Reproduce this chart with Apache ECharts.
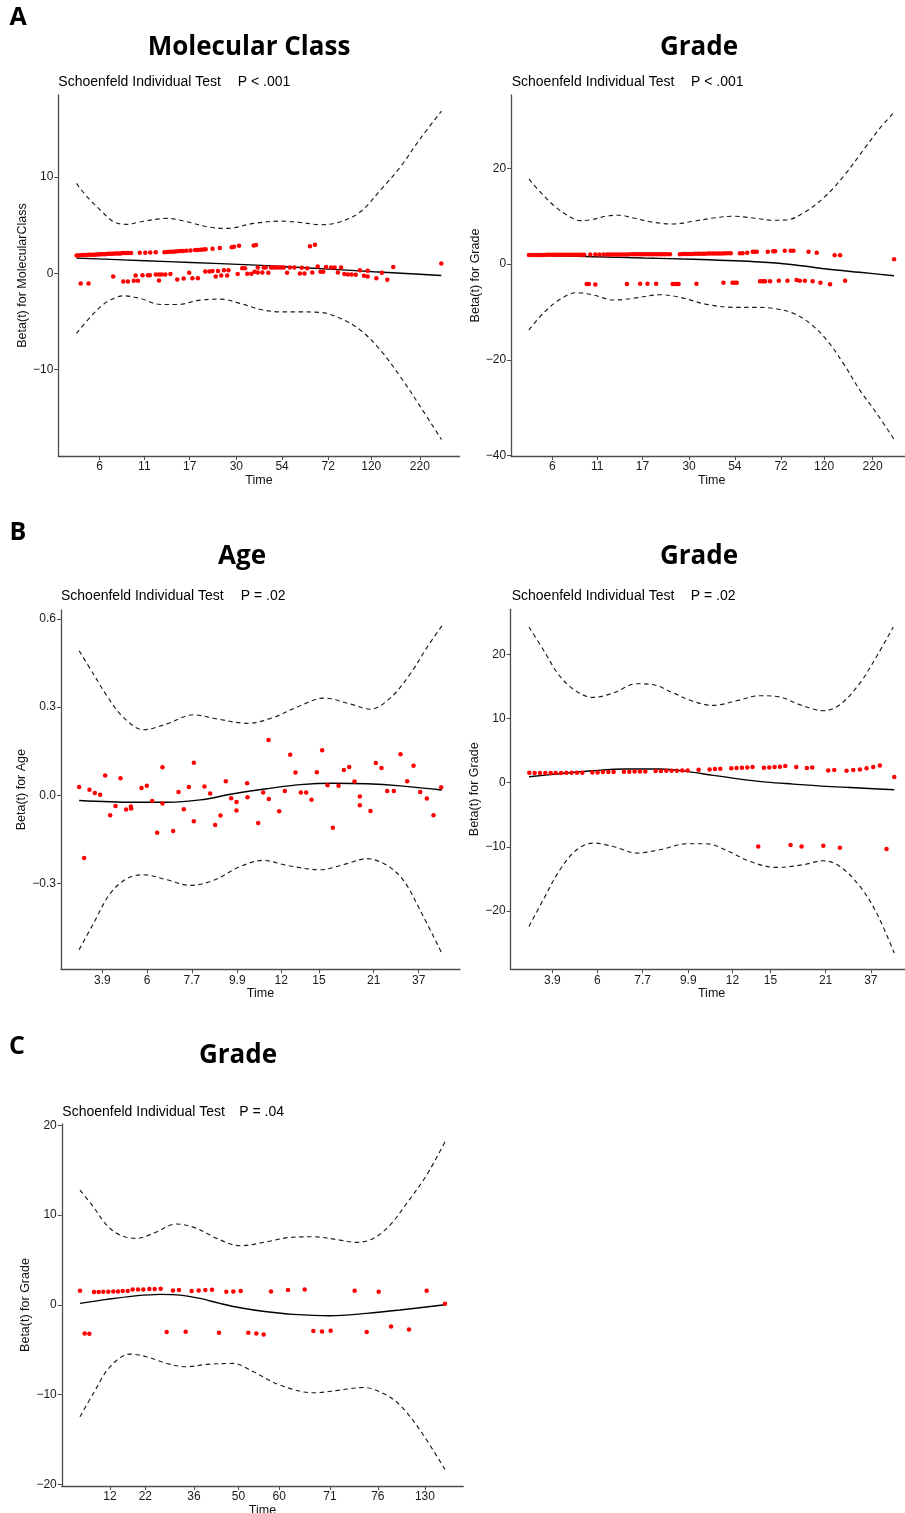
<!DOCTYPE html>
<html><head><meta charset="utf-8">
<script src="https://cdn.jsdelivr.net/npm/echarts@6/dist/echarts.min.js"></script>
<style>html,body{margin:0;padding:0;background:#fff}#c{width:905px;height:1513px}</style>
</head><body><div id="c"></div>
<script>
// ---------- Panel A left: Molecular Class (x = rank-transformed time, tick units) ----------
const molTicks = [1, 1.98, 2.97, 3.99, 4.99, 6.0, 6.94, 8.0];
const molTickLabels = ['6','11','17','30','54','72','120','220'];
const molPoints = [
[0.50,1.85],[0.54,1.85],[0.58,1.86],[0.63,1.88],[0.67,1.88],[0.72,1.89],[0.76,1.91],[0.80,1.91],[0.85,1.92],[0.89,1.93],[0.93,1.95],[0.98,1.95],[1.02,1.96],[1.07,1.98],[1.11,1.98],[1.15,1.99],[1.20,2.02],[1.24,2.02],[1.28,2.03],[1.33,2.05],[1.37,2.05],[1.42,2.06],[1.46,2.06],[1.50,2.09],[1.55,2.09],[1.59,2.10],[1.63,2.10],[1.69,2.11],[1.88,2.12],[2.00,2.13],[2.11,2.16],[2.23,2.17],[2.42,2.19],[2.48,2.20],[2.54,2.23],[2.60,2.24],[2.65,2.26],[2.71,2.27],[2.77,2.30],[2.83,2.31],[2.90,2.33],[2.99,2.36],[3.09,2.40],[3.15,2.41],[3.21,2.43],[3.27,2.47],[3.32,2.48],[3.47,2.54],[3.63,2.61],[3.89,2.71],[3.94,2.74],[4.05,2.85],[4.37,2.89],[4.42,2.92],[5.60,2.81],[5.71,2.95],
[0.59,-1.06],[0.76,-1.06],[1.30,-0.34],[1.52,-0.85],[1.62,-0.85],[1.75,-0.79],[1.79,-0.23],[1.84,-0.79],[1.94,-0.20],[2.06,-0.20],[2.10,-0.20],[2.23,-0.13],[2.30,-0.13],[2.30,-0.75],[2.36,-0.13],[2.44,-0.13],[2.55,-0.09],[2.70,-0.65],[2.84,-0.54],[2.96,0.04],[3.03,-0.51],[3.15,-0.51],[3.31,0.18],[3.40,0.18],[3.47,0.22],[3.54,-0.34],[3.59,0.22],[3.66,-0.23],[3.72,0.32],[3.79,-0.23],[3.82,0.32],[4.02,-0.09],[4.12,0.53],[4.18,0.53],[4.23,-0.06],[4.32,-0.06],[4.39,0.15],[4.46,0.60],[4.46,0.08],[4.56,0.08],[4.59,0.60],[4.63,0.60],[4.69,0.04],[4.75,0.60],[4.80,0.60],[4.85,0.60],[4.91,0.60],[4.97,0.60],[5.03,0.60],[5.10,0.04],[5.16,0.60],[5.26,0.60],[5.38,-0.02],[5.42,0.56],[5.48,-0.02],[5.54,0.53],[5.65,0.08],[5.77,0.70],[5.83,0.15],[5.89,0.15],[5.95,0.66],[6.06,0.60],[6.14,0.60],[6.21,0.08],[6.28,0.60],[6.35,-0.09],[6.43,-0.13],[6.51,-0.13],[6.60,-0.16],[6.69,0.32],[6.78,-0.27],[6.86,0.25],[6.86,-0.34],[7.05,-0.51],[7.17,0.04],[7.29,-0.68],[7.42,0.66],[8.47,1.01]
];
const molFit = [[0.5,1.57],[1.5,1.39],[2.5,1.2],[3.5,1.02],[4.3,0.87],[5,0.7],[6,0.43],[7,0.16],[8,-0.1],[8.47,-0.23]];
const molUpper = [[0.497,9.32],[0.731,7.93],[1.022,6.55],[1.313,5.34],[1.605,5.07],[1.896,5.34],[2.479,5.69],[2.917,5.34],[3.354,4.82],[3.791,4.65],[4.372,5.17],[4.955,5.41],[5.392,5.27],[5.83,5.03],[6.267,5.34],[6.704,6.38],[7.141,8.63],[7.578,11.05],[8.015,14.0],[8.473,16.83]];
const molLower = [[0.497,-6.25],[0.875,-4.17],[1.168,-2.97],[1.531,-2.35],[1.896,-2.62],[2.333,-3.24],[2.698,-3.24],[3.207,-2.79],[3.644,-2.69],[4.081,-3.14],[4.518,-3.76],[4.955,-4.01],[5.392,-4.01],[5.83,-4.07],[6.267,-4.69],[6.704,-5.91],[7.141,-7.99],[7.578,-10.76],[8.015,-13.87],[8.473,-17.26]];

// ---------- Panel A right: Grade ----------
const gradeATicks = molTicks;
const gradeATickLabels = molTickLabels;
const gradeAPoints = [
[0.49,1.88],[0.55,1.88],[0.60,1.89],[0.66,1.88],[0.71,1.90],[0.77,1.90],[0.82,1.90],[0.88,1.91],[0.93,1.91],[0.99,1.92],[1.04,1.92],[1.10,1.92],[1.15,1.93],[1.21,1.93],[1.26,1.93],[1.32,1.94],[1.37,1.94],[1.43,1.94],[1.48,1.95],[1.54,1.95],[1.59,1.95],[1.65,1.96],[1.70,1.96],
[1.83,1.97],[1.94,1.97],[2.03,1.98],[2.12,1.98],
[2.20,1.99],[2.25,1.99],[2.31,1.99],[2.37,2.00],[2.43,2.00],[2.48,2.00],[2.54,2.01],[2.60,2.01],[2.65,2.01],[2.71,2.02],[2.77,2.02],[2.82,2.02],[2.88,2.02],[2.94,2.03],[3.00,2.03],[3.05,2.03],[3.11,2.03],[3.17,2.04],[3.22,2.04],[3.28,2.04],[3.34,2.04],[3.39,2.05],[3.45,2.05],[3.51,2.05],[3.57,2.05],
[3.79,2.06],[3.85,2.07],[3.90,2.08],[3.96,2.09],[4.01,2.10],[4.07,2.11],[4.12,2.12],[4.18,2.13],[4.23,2.14],[4.29,2.15],[4.34,2.16],[4.40,2.17],[4.45,2.18],[4.51,2.19],[4.56,2.20],[4.62,2.21],[4.67,2.22],[4.73,2.22],[4.78,2.23],[4.84,2.24],[4.90,2.24],
[5.10,2.27],[5.16,2.27],[5.26,2.36],[5.38,2.57],[5.42,2.57],[5.47,2.57],[5.71,2.57],[5.83,2.66],[5.87,2.66],[6.08,2.78],[6.21,2.78],[6.27,2.78],[6.60,2.57],[6.78,2.36],[7.17,1.82],[7.29,1.82],[8.47,0.98],
[1.75,-4.18],[1.80,-4.18],[1.94,-4.30],[2.63,-4.18],[2.92,-4.10],[3.08,-4.10],[3.27,-4.10],[3.63,-4.18],[3.68,-4.18],[3.73,-4.18],[3.76,-4.18],[4.15,-4.10],[4.74,-3.91],[4.94,-3.91],[4.99,-3.91],[5.03,-3.91],[5.54,-3.62],[5.58,-3.62],[5.63,-3.62],[5.65,-3.62],[5.76,-3.62],[5.95,-3.49],[6.14,-3.49],[6.34,-3.36],[6.41,-3.49],[6.52,-3.49],[6.69,-3.62],[6.86,-3.91],[7.07,-4.24],[7.40,-3.49]
];
const gradeAFit = [[0.49,1.88],[1.90,1.53],[2.99,1.25],[4.08,0.98],[5.54,0.42],[6.27,-0.15],[7.0,-1.04],[7.72,-1.73],[8.47,-2.45]];
const gradeAUpper = [[0.49,17.76],[0.73,15.11],[1.02,12.33],[1.32,10.24],[1.61,9.05],[1.90,9.34],[2.19,10.03],[2.48,10.18],[2.77,9.61],[3.21,8.71],[3.64,8.36],[4.08,8.92],[4.52,9.61],[4.96,9.97],[5.39,9.61],[5.83,9.13],[6.12,9.2],[6.48,10.6],[6.92,13.73],[7.36,18.24],[7.80,23.82],[8.16,28.36],[8.45,31.49]];
const gradeALower = [[0.49,-13.79],[0.80,-10.3],[1.17,-7.38],[1.53,-6.0],[1.90,-6.48],[2.33,-7.52],[2.77,-7.17],[3.35,-6.42],[3.79,-6.96],[4.37,-8.42],[4.96,-9.05],[5.39,-9.05],[5.83,-9.26],[6.27,-10.3],[6.63,-12.39],[7.0,-15.88],[7.36,-20.75],[7.72,-26.33],[8.09,-31.2],[8.47,-36.63]];

// ---------- Panel B left: Age (x = transformed time, 0-100) ----------
const bTicks = [6.4, 18.7, 31.1, 43.6, 55.7, 66.1, 81.2, 93.6];
const bTickLabels = ['3.9','6','7.7','9.9','12','15','21','37'];
const agePoints = [
[0,0.028],[1.38,-0.214],[2.85,0.019],[4.32,0.008],[5.79,0.002],[7.17,0.067],[8.55,-0.068],[10.02,-0.037],[11.40,0.058],[12.96,-0.049],[14.25,-0.038],[14.34,-0.045],[17.19,0.025],[18.66,0.032],[20.13,-0.020],[21.51,-0.128],[22.98,0.095],[22.98,-0.028],[25.92,-0.122],[27.39,0.011],[28.86,-0.048],[30.24,0.028],[31.62,0.111],[31.62,-0.089],[34.56,0.030],[36.12,0.006],[37.50,-0.101],[38.97,-0.069],[40.44,0.048],[41.91,-0.010],[43.38,-0.023],[43.38,-0.052],[46.32,0.041],[46.42,-0.007],[49.36,-0.095],[50.74,0.009],[52.21,0.188],[52.30,-0.013],[55.15,-0.055],[56.71,0.014],[58.18,0.138],[59.65,0.077],[61.12,0.009],[62.59,0.009],[64.06,-0.015],[65.53,0.078],[67.00,0.153],[68.47,0.034],[69.94,-0.111],[71.51,0.032],[72.98,0.086],[74.45,0.096],[75.92,0.047],[77.39,-0.004],[77.39,-0.034],[80.33,-0.054],[81.80,0.110],[83.36,0.093],[84.93,0.014],[86.76,0.014],[88.60,0.140],[90.44,0.048],[92.19,0.100],[94.03,0.011],[95.86,-0.011],[97.70,-0.068],[99.82,0.027]
];
const ageFit = [[0,-0.018],[14.97,-0.024],[24.18,-0.024],[33.36,-0.016],[42.54,0.005],[51.75,0.022],[60.93,0.036],[70.11,0.041],[79.32,0.039],[88.5,0.032],[100,0.018]];
const ageUpper = [[0,0.492],[3.94,0.413],[7.64,0.339],[12.21,0.265],[17.73,0.223],[24.18,0.243],[31.51,0.274],[37.96,0.26],[46.24,0.245],[53.57,0.265],[60.93,0.305],[67.36,0.331],[74.72,0.311],[80.23,0.293],[85.75,0.331],[91.26,0.413],[95.86,0.503],[100,0.577]];
const ageLower = [[0,-0.526],[3.94,-0.437],[8.55,-0.335],[13.15,-0.284],[17.73,-0.271],[24.18,-0.288],[30.6,-0.307],[37.03,-0.29],[44.39,-0.243],[50.81,-0.222],[57.27,-0.239],[66.45,-0.254],[73.81,-0.233],[79.32,-0.216],[84.84,-0.239],[89.41,-0.29],[94.02,-0.392],[99.81,-0.534]];

// ---------- Panel B right: Grade ----------
const gradeBPoints = [
[0.09,1.56],[1.55,1.51],[3.01,1.51],[4.47,1.51],[5.93,1.51],[7.30,1.51],[8.76,1.51],[10.22,1.56],[11.68,1.56],[13.14,1.56],[14.60,1.56],[17.34,1.61],[18.80,1.61],[20.26,1.66],[21.72,1.66],[23.18,1.66],[26.00,1.72],[27.46,1.72],[28.92,1.77],[30.38,1.77],[31.84,1.77],[34.67,1.82],[36.13,1.82],[37.59,1.87],[39.05,1.87],[40.51,1.87],[41.97,1.92],[43.43,1.92],[46.44,2.03],[49.45,2.08],[50.91,2.13],[52.37,2.18],[55.38,2.24],[56.84,2.29],[58.30,2.34],[59.76,2.39],[61.22,2.44],[64.32,2.34],[65.79,2.39],[67.24,2.44],[68.70,2.50],[70.16,2.60],[73.18,2.44],[76.09,2.29],[77.55,2.39],[81.93,1.92],[83.58,1.98],[86.95,1.87],[88.78,1.98],[90.60,2.08],[92.43,2.24],[94.25,2.44],[96.08,2.70],[100.0,0.88],
[62.77,-9.93],[71.62,-9.72],[74.64,-9.93],[80.57,-9.83],[85.13,-10.14],[97.90,-10.35]
];
const gradeBFit = [[0,0.94],[8.49,1.40],[17.6,1.87],[26.75,2.13],[35.86,2.13],[43.17,1.77],[50.45,1.14],[57.76,0.57],[65.07,0.1],[72.35,-0.21],[81.5,-0.57],[90.61,-0.83],[100,-1.09]];
const gradeBUpper = [[0,24.29],[3.91,20.75],[8.49,16.58],[13.06,14.24],[17.6,13.31],[23.08,14.0],[29.48,15.44],[34.03,15.29],[39.5,14.0],[44.98,12.68],[50.45,12.06],[56.86,12.79],[63.24,13.57],[68.71,13.37],[74.19,12.17],[80.56,11.23],[85.13,12.17],[90.61,15.55],[95.18,19.7],[99.73,24.29]];
const gradeBLower = [[0,-22.42],[3.91,-18.25],[8.49,-13.57],[13.06,-10.45],[17.6,-9.41],[23.08,-9.94],[29.48,-10.97],[35.86,-10.45],[43.17,-9.52],[48.64,-9.52],[54.12,-10.56],[60.5,-12.28],[67.81,-13.21],[75.09,-12.79],[80.56,-12.17],[85.13,-13.06],[90.61,-16.18],[95.18,-20.33],[100,-26.57]];

// ---------- Panel C: Grade ----------
const cTicks = [8.2, 17.9, 31.2, 43.4, 54.6, 68.5, 81.6, 94.5];
const cTickLabels = ['12','22','36','50','60','71','76','130'];
const gradeCPoints = [
[0,1.56],[3.84,1.42],[5.11,1.42],[6.39,1.45],[7.76,1.45],[9.13,1.49],[10.41,1.49],[11.69,1.53],[13.06,1.53],[14.43,1.71],[15.89,1.71],[17.35,1.71],[19.00,1.75],[20.46,1.75],[22.10,1.79],[25.48,1.60],[27.12,1.64],[30.59,1.53],[32.51,1.60],[34.34,1.64],[36.16,1.68],[40.09,1.45],[42.01,1.49],[44.02,1.53],[52.33,1.49],[56.99,1.64],[61.55,1.71],[75.25,1.56],[81.83,1.45],[94.98,1.56],[100.0,0.12],
[1.28,-3.19],[2.56,-3.23],[23.74,-3.04],[28.95,-3.01],[38.08,-3.12],[46.12,-3.12],[48.31,-3.19],[50.32,-3.30],[63.93,-2.93],[66.30,-2.97],[68.68,-2.89],[78.54,-3.04],[85.21,-2.41],[90.14,-2.75]
];
const gradeCFit = [[0,0.15],[7.31,0.60],[14.61,0.97],[21.92,1.16],[27.4,1.08],[32.88,0.71],[38.36,0.15],[43.84,-0.33],[51.14,-0.78],[58.45,-1.07],[68.49,-1.22],[78.54,-0.96],[87.67,-0.59],[100,0.0]];
const gradeCUpper = [[0,12.78],[3.65,10.93],[7.31,8.88],[10.96,7.77],[15.53,7.40],[20.09,7.96],[26.48,9.0],[31.96,8.52],[37.44,7.40],[43.84,6.58],[51.14,7.02],[57.53,7.51],[63.93,7.58],[71.23,7.21],[75.8,6.95],[80.37,7.40],[84.93,8.88],[89.5,11.30],[94.98,14.46],[100,18.17]];
const gradeCLower = [[0,-12.48],[3.65,-9.88],[8.22,-6.91],[13.7,-5.50],[18.26,-5.79],[23.74,-6.54],[29.22,-6.91],[34.7,-6.65],[42.01,-6.54],[47.49,-7.47],[54.79,-8.95],[63.93,-9.81],[71.23,-9.51],[77.63,-9.22],[83.11,-9.88],[87.67,-11.18],[93.15,-13.97],[100,-18.35]];

// ---------- Layout / style ----------
const FONT = '"Liberation Sans", Arial, sans-serif';
const panels = [
  {grid:{left:58.3, top:95, width:401.3, height:361}, xr:[0.1,8.87], yr:[-18.97,18.5], xt:molTicks, xl:molTickLabels, yt:[-10,0,10], yf:v=>String(v).replace('-','\u2212'), yName:'Beta(t) for MolecularClass', yGap:26, xGap:15,
   pts:molPoints, fit:molFit, up:molUpper, lo:molLower},
  {grid:{left:511.1, top:95, width:401.3, height:361}, xr:[0.1,8.87], yr:[-40.1,35.3], xt:gradeATicks, xl:gradeATickLabels, yt:[-40,-20,0,20], yf:v=>String(v).replace('-','\u2212'), yName:'Beta(t) for Grade', yGap:26, xGap:15,
   pts:gradeAPoints, fit:gradeAFit, up:gradeAUpper, lo:gradeALower},
  {grid:{left:61, top:610, width:399, height:359.3}, xr:[-5,105], yr:[-0.593,0.631], xt:bTicks, xl:bTickLabels, yt:[-0.3,0,0.3,0.6], yf:v=>v.toFixed(1).replace('-','\u2212'), yName:'Beta(t) for Age', yGap:29, xGap:16,
   pts:agePoints, fit:ageFit, up:ageUpper, lo:ageLower},
  {grid:{left:510.7, top:609.3, width:401.8, height:360}, xr:[-5,105], yr:[-29.1,27.05], xt:bTicks, xl:bTickLabels, yt:[-20,-10,0,10,20], yf:v=>String(v).replace('-','\u2212'), yName:'Beta(t) for Grade', yGap:26, xGap:16,
   pts:gradeBPoints, fit:gradeBFit, up:gradeBUpper, lo:gradeBLower},
  {grid:{left:61.75, top:1124, width:401.5, height:362}, xr:[-5,105], yr:[-20.2,20.15], xt:cTicks, xl:cTickLabels, yt:[-20,-10,0,10,20], yf:v=>String(v).replace('-','\u2212'), yName:'Beta(t) for Grade', yGap:26.5, xGap:15,
   pts:gradeCPoints, fit:gradeCFit, up:gradeCUpper, lo:gradeCLower}
];

const axisLineStyle = {color:'#4d4d4d', width:1.3};
const grids=[], xAxes=[], yAxes=[], series=[];
panels.forEach((p,i)=>{
  grids.push(Object.assign({containLabel:false, outerBoundsMode:'none'}, p.grid));
  xAxes.push({gridIndex:i, type:'value', min:p.xr[0], max:p.xr[1],
    axisLine:{show:true, onZero:false, lineStyle:axisLineStyle},
    axisTick:{show:true, length:4, customValues:p.xt, lineStyle:{color:'#4d4d4d', width:1}},
    axisLabel:{customValues:p.xt, margin:5, color:'#1a1a1a', fontSize:12, fontFamily:FONT,
      formatter:(v)=>{const k=p.xt.findIndex(t=>Math.abs(t-v)<1e-6); return k>=0?p.xl[k]:'';}},
    splitLine:{show:false},
    name:'Time', nameLocation:'middle', nameGap:p.xGap, nameTextStyle:{color:'#111', fontSize:12.5, fontFamily:FONT}});
  yAxes.push({gridIndex:i, type:'value', min:p.yr[0], max:p.yr[1],
    axisLine:{show:true, onZero:false, lineStyle:axisLineStyle},
    axisTick:{show:true, length:4, customValues:p.yt, lineStyle:{color:'#4d4d4d', width:1}},
    axisLabel:{customValues:p.yt, margin:5, color:'#1a1a1a', fontSize:12, fontFamily:FONT, formatter:p.yf},
    splitLine:{show:false},
    name:p.yName, nameLocation:'middle', nameGap:p.yGap, nameRotate:90, nameTextStyle:{color:'#111', fontSize:12.5, fontFamily:FONT}});
  const common = {xAxisIndex:i, yAxisIndex:i, silent:true, animation:false};
  const dash = {color:'#1a1a1a', width:1.15, type:[4.5,3.5]};
  series.push(Object.assign({type:'line', data:p.up, smooth:0.35, symbol:'none', lineStyle:dash, z:2}, common));
  series.push(Object.assign({type:'line', data:p.lo, smooth:0.35, symbol:'none', lineStyle:dash, z:2}, common));
  series.push(Object.assign({type:'line', data:p.fit, smooth:0.35, symbol:'none', lineStyle:{color:'#000', width:1.4}, z:2}, common));
  series.push(Object.assign({type:'scatter', data:p.pts, symbol:'circle', symbolSize:4.5, itemStyle:{color:'#ff0000', opacity:1}, z:3}, common));
});

const TFONT = '700 26px "Open Sans", sans-serif';
const LFONT = '700 25px "Open Sans", sans-serif';
const SFONT = '14px "Liberation Sans", Arial, sans-serif';
function txt(text,x,y,font,align){return {type:'text', x:x, y:y, silent:true, style:{text:text, font:font, fill:'#000', align:align||'center', verticalAlign:'middle'}};}
const graphics = [
  txt('A',18,18,LFONT), txt('B',18,533,LFONT), txt('C',17,1047,LFONT),
  txt('Molecular Class',249,48,TFONT), txt('Grade',699,48,TFONT),
  txt('Age',242,557,TFONT), txt('Grade',699,557,TFONT), txt('Grade',238,1056,TFONT),
  txt('Schoenfeld Individual Test',58.3,82.3,SFONT,'left'), txt('P < .001',237.7,82.3,SFONT,'left'),
  txt('Schoenfeld Individual Test',511.7,82.3,SFONT,'left'), txt('P < .001',691,82.3,SFONT,'left'),
  txt('Schoenfeld Individual Test',61,596,SFONT,'left'), txt('P = .02',240.7,596,SFONT,'left'),
  txt('Schoenfeld Individual Test',511.7,596,SFONT,'left'), txt('P = .02',690.7,596,SFONT,'left'),
  txt('Schoenfeld Individual Test',62.3,1111.7,SFONT,'left'), txt('P = .04',239.3,1111.7,SFONT,'left')
];

const chart = echarts.init(document.getElementById('c'), null, {renderer:'canvas'});
chart.setOption({backgroundColor:'#fff', animation:false, grid:grids, xAxis:xAxes, yAxis:yAxes, series:series, graphic:graphics});
</script></body></html>
